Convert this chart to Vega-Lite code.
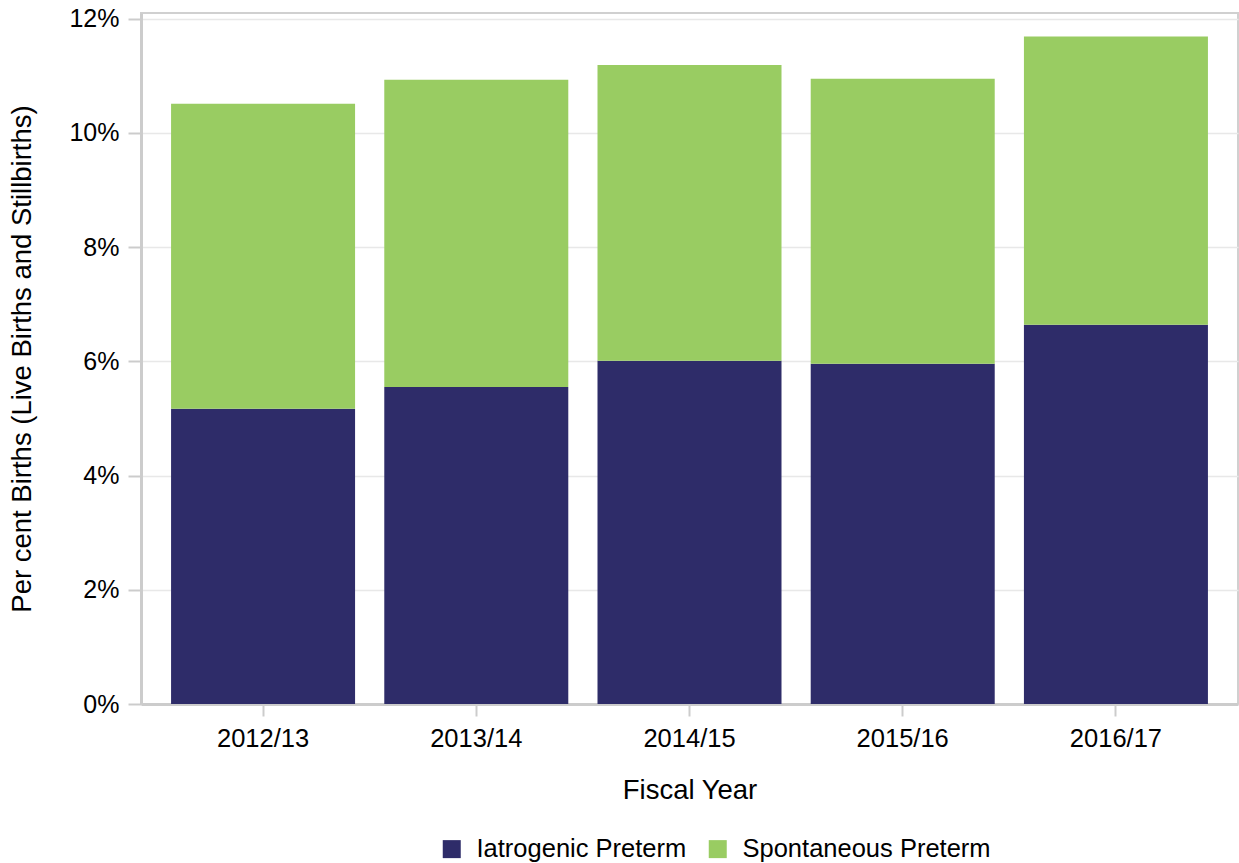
{
  "$schema": "https://vega.github.io/schema/vega-lite/v6.json",
  "autosize": {"type": "none"},
  "width": 1097,
  "height": 691,
  "padding": {"left": 141, "top": 13, "right": 1, "bottom": 159},
  "background": "white",
  "config": {
    "font": "Liberation Sans",
    "view": {"stroke": "#d0d0d0", "strokeWidth": 2},
    "axis": {"labelFont": "Liberation Sans", "titleFont": "Liberation Sans", "labelColor": "#000000", "titleColor": "#000000", "titleFontWeight": "normal"}
  },
  "data": {
    "values": [
      {"year": "2012/13", "type": "Iatrogenic Preterm", "pct": 0.0517},
      {"year": "2012/13", "type": "Spontaneous Preterm", "pct": 0.0534},
      {"year": "2013/14", "type": "Iatrogenic Preterm", "pct": 0.0555},
      {"year": "2013/14", "type": "Spontaneous Preterm", "pct": 0.0538},
      {"year": "2014/15", "type": "Iatrogenic Preterm", "pct": 0.0601},
      {"year": "2014/15", "type": "Spontaneous Preterm", "pct": 0.0518},
      {"year": "2015/16", "type": "Iatrogenic Preterm", "pct": 0.0596},
      {"year": "2015/16", "type": "Spontaneous Preterm", "pct": 0.0499},
      {"year": "2016/17", "type": "Iatrogenic Preterm", "pct": 0.0664},
      {"year": "2016/17", "type": "Spontaneous Preterm", "pct": 0.0505}
    ]
  },
  "mark": {"type": "bar"},
  "encoding": {
    "x": {
      "field": "year", "type": "nominal", "title": "Fiscal Year",
      "scale": {"paddingInner": 0.137, "paddingOuter": 0.141},
      "axis": {
        "labelAngle": 0, "labelFontSize": 25.5, "titleFontSize": 27.5,
        "domainColor": "#cccccc", "domainWidth": 3,
        "tickColor": "#cccccc", "tickWidth": 2, "tickSize": 12,
        "labelPadding": 10, "titlePadding": 25
      }
    },
    "y": {
      "field": "pct", "type": "quantitative", "stack": "zero",
      "title": "Per cent Births (Live Births and Stillbirths)",
      "scale": {"domain": [0, 0.121], "nice": false},
      "axis": {
        "format": ".0%", "values": [0, 0.02, 0.04, 0.06, 0.08, 0.1, 0.12],
        "labelFontSize": 25, "titleFontSize": 27.5,
        "domainColor": "#cccccc", "domainWidth": 3,
        "tickColor": "#cccccc", "tickWidth": 2, "tickSize": 13,
        "gridColor": "#e8e8e8", "gridWidth": 1.5,
        "labelPadding": 9, "titlePadding": 32
      }
    },
    "color": {
      "field": "type", "type": "nominal",
      "scale": {"domain": ["Iatrogenic Preterm", "Spontaneous Preterm"], "range": ["#2e2c69", "#99cc62"]},
      "legend": {
        "title": null, "orient": "none", "direction": "horizontal",
        "legendX": 298, "legendY": 823, "padding": 0,
        "symbolType": "square", "symbolSize": 324, "symbolStrokeWidth": 0,
        "labelFontSize": 25.5, "labelFont": "Liberation Sans", "labelColor": "#000000",
        "labelOffset": 12, "columnPadding": 18, "labelLimit": 400
      }
    },
    "order": {"field": "type", "sort": "ascending"}
  }
}
